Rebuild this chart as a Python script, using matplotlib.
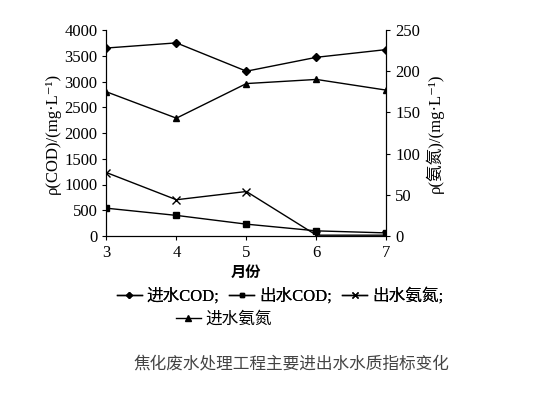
import matplotlib
matplotlib.use("Agg")
import matplotlib.pyplot as plt
from matplotlib.lines import Line2D

plt.rcParams['font.family'] = ['Liberation Serif', 'Noto Sans CJK SC', 'DejaVu Sans']

months = [3, 4, 5, 6, 7]
cod_in = [3650, 3750, 3200, 3470, 3620]
cod_out = [540, 400, 230, 100, 60]
nh_out = [77, 44, 54, 1, 1]
nh_in = [175, 143, 185, 190, 177]

fig = plt.figure(figsize=(5.6, 4.0), dpi=100)
ax = fig.add_axes([0.19, 0.41, 0.50, 0.515])
ax2 = ax.twinx()

kw = dict(color='black', lw=1.0)
ax.plot(months, cod_in, marker='D', ms=4, **kw)
ax.plot(months, cod_out, marker='s', ms=4, **kw)
ax2.plot(months, nh_out, marker='x', ms=6, **kw)
ax2.plot(months, nh_in, marker='^', ms=5, **kw)

ax.set_xlim(3, 7)
ax.set_ylim(0, 4000)
ax2.set_ylim(0, 250)
ax.set_xticks(months)
ax.set_yticks(range(0, 4001, 500))
ax2.set_yticks(range(0, 251, 50))
for a in (ax, ax2):
    a.spines['top'].set_visible(False)
    a.tick_params(labelsize=12, direction='out', length=3)
ax.set_xlabel('月份', fontsize=11, fontweight='bold')
ax.set_ylabel('ρ(COD)/(mg·L⁻¹)', fontsize=12, labelpad=2)
ax2.set_ylabel('ρ(氨氮)/(mg·L⁻¹)', fontsize=12, labelpad=4)

handles = [Line2D([], [], marker=m, ms=s, **kw) for m, s in
           [('D', 3), ('s', 3), ('x', 4), ('^', 4)]]
labels = ['进水COD;', '出水COD;', '出水氨氮;', '进水氨氮']
lg = fig.legend(handles[:3], labels[:3], loc='center', bbox_to_anchor=(0.5, 0.26),
                ncol=3, frameon=False, fontsize=12, handlelength=1.5,
                handletextpad=0.3, columnspacing=0.6)
fig.add_artist(lg)
fig.legend(handles[3:], labels[3:], loc='center', bbox_to_anchor=(0.4, 0.2),
           frameon=False, fontsize=12, handlelength=1.5, handletextpad=0.3)

fig.text(0.52, 0.08, '焦化废水处理工程主要进出水水质指标变化', ha='center',
         fontsize=12, color='#444444')

fig.savefig('out.png', dpi=100)
